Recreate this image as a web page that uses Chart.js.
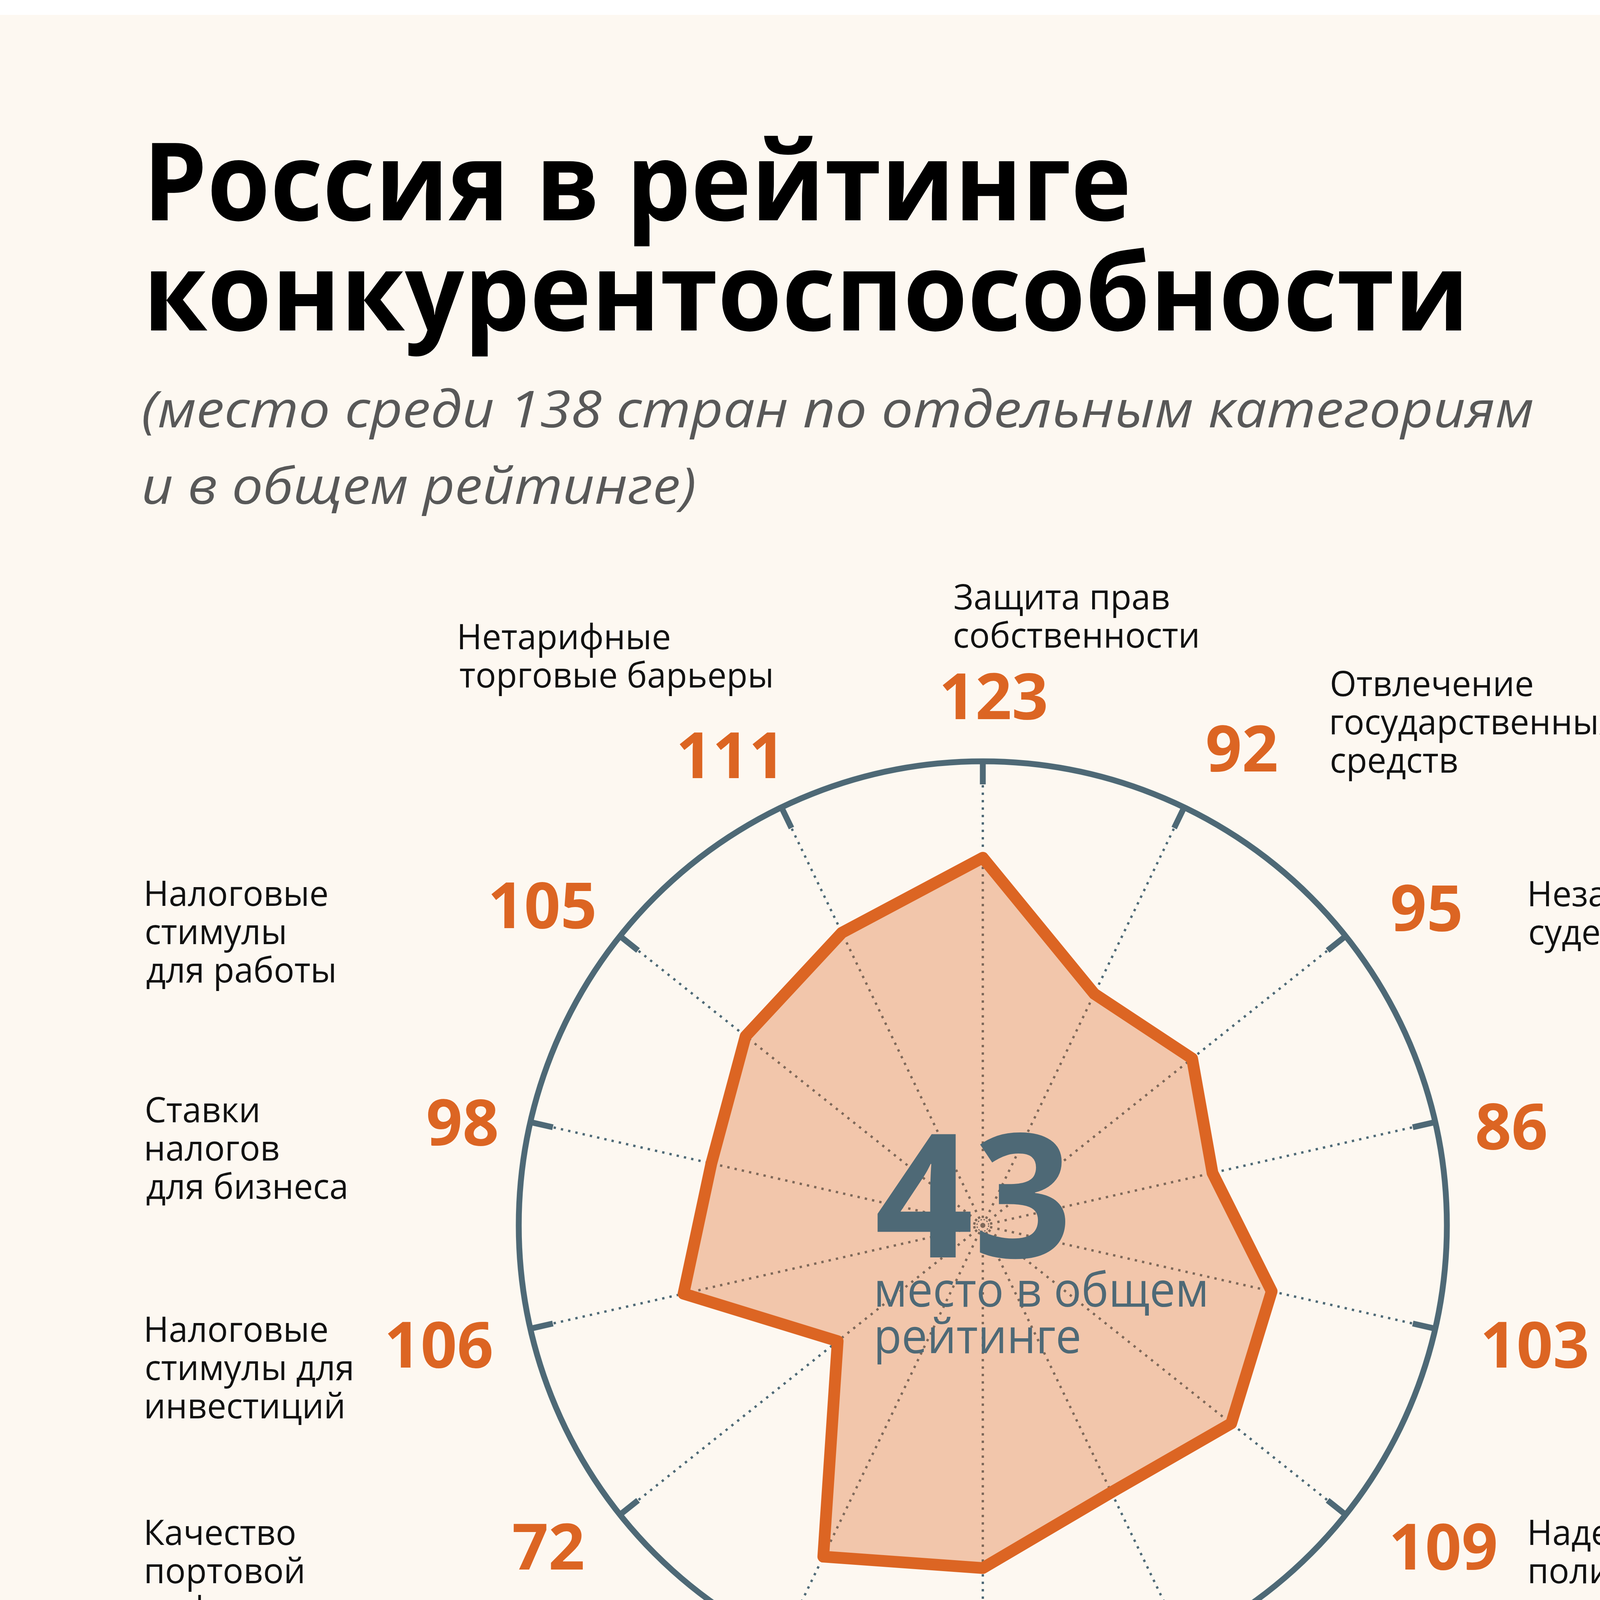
<!DOCTYPE html>
<html lang="ru">
<head>
<meta charset="utf-8">
<script src="https://cdn.jsdelivr.net/npm/chart.js@4.4.1/dist/chart.umd.min.js"></script>
<style>
  html, body { margin: 0; padding: 0; background: #ffffff; }
  body { width: 5315px; height: 5474px; position: relative; overflow: hidden; }
  #page, #chart { position: absolute; left: 0; top: 0; }
</style>
</head>
<body>
<svg id="page" width="5315" height="5474" xmlns="http://www.w3.org/2000/svg">
  <rect x="0" y="38" width="5307" height="5384" fill="#fdf8f1"/>
  <g font-family="Open Sans" font-weight="700" font-size="277" fill="#000">
    <text x="366" y="564" textLength="2530" lengthAdjust="spacingAndGlyphs">Россия в рейтинге</text>
    <text x="366" y="846" textLength="3395" lengthAdjust="spacingAndGlyphs">конкурентоспособности</text>
  </g>
  <g font-family="Open Sans" font-style="italic" font-size="130" fill="#585858">
    <text x="362" y="1094" textLength="3565" lengthAdjust="spacingAndGlyphs">(место среди 138 стран по отдельным категориям</text>
    <text x="362" y="1290" textLength="1420" lengthAdjust="spacingAndGlyphs">и в общем рейтинге)</text>
  </g>
  <g font-family="Open Sans" font-style="italic" font-size="80" fill="#585858">
    <text x="364" y="5205" textLength="2000" lengthAdjust="spacingAndGlyphs">Источник: "Global Competitiveness Index 2016-2017",</text>
    <text x="364" y="5295" textLength="1612" lengthAdjust="spacingAndGlyphs">Всемирный экономический форум, Давос</text>
  </g>
  <!-- логотип -->
  <g fill="#e8690b">
    <path d="M4431,5023 C4405,5060 4405,5090 4418,5120 C4425,5140 4432,5150 4435,5160 C4450,5130 4460,5100 4448,5075 C4440,5058 4427,5045 4431,5023 Z"/>
    <path d="M4332,5061 C4332,5100 4345,5120 4370,5132 C4395,5143 4420,5150 4431,5158 C4432,5130 4425,5110 4405,5098 C4375,5085 4340,5085 4332,5061 Z"/>
    <path d="M4527,5114 C4495,5102 4475,5118 4462,5140 C4450,5160 4440,5178 4410,5182 C4430,5192 4455,5190 4470,5170 C4485,5150 4495,5125 4527,5114 Z"/>
    <polygon points="4388,5190 4477,5190 4462,5225 4388,5225"/>
    <polygon points="4400,5229 4447,5229 4406,5326 4400,5326"/>
  </g>
  <g font-family="Inter" font-weight="800" font-size="99" fill="#4e6976">
    <text x="4540" y="5191" textLength="305" lengthAdjust="spacingAndGlyphs">Радио</text>
    <text x="4531" y="5297" textLength="420" lengthAdjust="spacingAndGlyphs">Свобода</text>
  </g>
</svg>
<canvas id="chart" width="5315" height="5474"></canvas>
<script>
// категории по часовой стрелке, начиная сверху
const categories = [
  ["Защита прав", "собственности"],
  ["Отвлечение", "государственных", "средств"],
  ["Независимость", "судебной системы"],
  ["Расточительность", "госрасходов"],
  ["Бремя", "госрегулирования"],
  ["Надежность услуг", "полиции"],
  ["Качество", "аудита и", "стандартов", "отчетности"],
  ["Защита", "интересов", "миноритарных", "акционеров"],
  ["Качество", "автомобильных", "дорог"],
  ["Качество", "портовой", "инфраструктуры"],
  ["Налоговые", "стимулы для", "инвестиций"],
  ["Ставки", "налогов", "для бизнеса"],
  ["Налоговые", "стимулы", "для работы"],
  ["Нетарифные", "торговые барьеры"]
];
// место среди 138 стран
const places = [123, 92, 95, 86, 103, 109, 103, 116, 123, 72, 106, 98, 105, 111];
const overallPlace = 43;
const overallCaption = ["место в общем", "рейтинге"];
const scaleMin = 20;
const scaleMax = 150;

// раскладка подписей (левый/правый край текста и базовая линия)
const placeSpots = [
  [2545, 1841, 'center'], [3091, 1975, 'left'], [3564, 2383, 'left'], [3781, 2942, 'left'],
  [3798, 3501, 'left'], [3564, 4018, 'left'], [3187, 4429, 'left'], [2390, 4523, 'left'],
  [1705, 4429, 'left'], [1492, 4018, 'right'], [1258, 3501, 'right'], [1272, 2932, 'right'],
  [1521, 2376, 'right'], [1985, 1992, 'right']
];
const nameSpots = [
  [2444, 1560], [3409, 1782], [3917, 2320], [4151, 2879], [4151, 3435], [3917, 3955],
  [3177, 4647], [2377, 4647], [1544, 4647], [375, 3955], [375, 3435], [375, 2873],
  [375, 2319], [1177, 1662]
];

const SLATE = '#4e6976';
const ORANGE = '#dc6523';
const NAME_SQUEEZE = 0.975;
const NAME_LEADING = 98;

// текст по краю "чернил", а не по точке привязки
function inkText(ctx, text, x, y, align, squeeze) {
  const m = ctx.measureText(text);
  ctx.save();
  ctx.textAlign = 'left';
  ctx.textBaseline = 'alphabetic';
  let dx;
  if (align === 'left') dx = m.actualBoundingBoxLeft * squeeze;
  else if (align === 'right') dx = -m.actualBoundingBoxRight * squeeze;
  else dx = -(m.actualBoundingBoxRight - m.actualBoundingBoxLeft) * squeeze / 2;
  ctx.translate(x + dx, y);
  ctx.scale(squeeze, 1);
  ctx.fillText(text, 0, 0);
  ctx.restore();
}

const decor = {
  id: 'decor',
  afterDatasetsDraw(chart) {
    const s = chart.scales.r;
    const ctx = chart.ctx;
    const n = chart.data.labels.length;

    // засечки на внешнем круге
    ctx.save();
    ctx.strokeStyle = SLATE;
    ctx.lineWidth = 15;
    for (let i = 0; i < n; i++) {
      const a = s.getPointPosition(i, s.drawingArea);
      const b = s.getPointPosition(i, s.drawingArea - 59);
      ctx.beginPath();
      ctx.moveTo(a.x, a.y);
      ctx.lineTo(b.x, b.y);
      ctx.stroke();
    }
    // маленький кружок в центре
    ctx.lineWidth = 3;
    ctx.strokeStyle = 'rgba(110,95,88,0.9)';
    ctx.setLineDash([4, 4]);
    ctx.beginPath();
    ctx.arc(s.xCenter, s.yCenter, 15, 0, Math.PI * 2);
    ctx.stroke();
    ctx.restore();

    // общий рейтинг в центре
    ctx.save();
    ctx.fillStyle = SLATE;
    ctx.font = '700 442px "Open Sans"';
    inkText(ctx, String(overallPlace), 2246, 3219, 'left', 1);
    ctx.font = '400 122px "Open Sans"';
    inkText(ctx, overallCaption[0], 2246, 3345, 'left', 0.96);
    inkText(ctx, overallCaption[1], 2246, 3464, 'left', 0.96);
    ctx.restore();
  },
  afterDraw(chart) {
    const ctx = chart.ctx;
    const ds = chart.data.datasets[0].data;
    ctx.save();
    ctx.fillStyle = ORANGE;
    ctx.font = '700 163px "Open Sans"';
    ds.forEach((v, i) => {
      const [x, y, align] = placeSpots[i];
      inkText(ctx, String(v), x, y, align, 1);
    });
    ctx.fillStyle = '#111111';
    ctx.font = '400 90px "Open Sans"';
    chart.data.labels.forEach((lines, i) => {
      const [x, y] = nameSpots[i];
      lines.forEach((line, k) => inkText(ctx, line, x, y + k * NAME_LEADING, 'left', NAME_SQUEEZE));
    });
    ctx.restore();
  }
};

function draw() {
  new Chart(document.getElementById('chart'), {
    type: 'radar',
    data: {
      labels: categories,
      datasets: [{
        data: places,
        borderColor: ORANGE,
        backgroundColor: 'rgba(221, 102, 34, 0.34)',
        borderWidth: 30,
        borderJoinStyle: 'round',
        pointRadius: 0,
        pointHoverRadius: 0,
        fill: true
      }]
    },
    options: {
      responsive: false,
      devicePixelRatio: 1,
      animation: false,
      events: [],
      layout: { padding: { left: 1328, right: 1611, top: 1949, bottom: 1149 } },
      plugins: { legend: { display: false }, tooltip: { enabled: false } },
      scales: {
        r: {
          min: scaleMin,
          max: scaleMax,
          ticks: { display: false, stepSize: scaleMax - scaleMin },
          pointLabels: { display: false },
          grid: {
            circular: true,
            lineWidth: 15,
            color: c => (c.tick && c.tick.value === scaleMax ? SLATE : 'rgba(0,0,0,0)')
          },
          angleLines: { color: SLATE, lineWidth: 6, borderDash: [6, 13] }
        }
      }
    },
    plugins: [decor]
  });
}

Promise.all([
  document.fonts.load('700 160px "Open Sans"'),
  document.fonts.load('400 90px "Open Sans"'),
  document.fonts.load('italic 130px "Open Sans"'),
  document.fonts.load('800 99px "Inter"')
]).then(draw, draw);
</script>
</body>
</html>
